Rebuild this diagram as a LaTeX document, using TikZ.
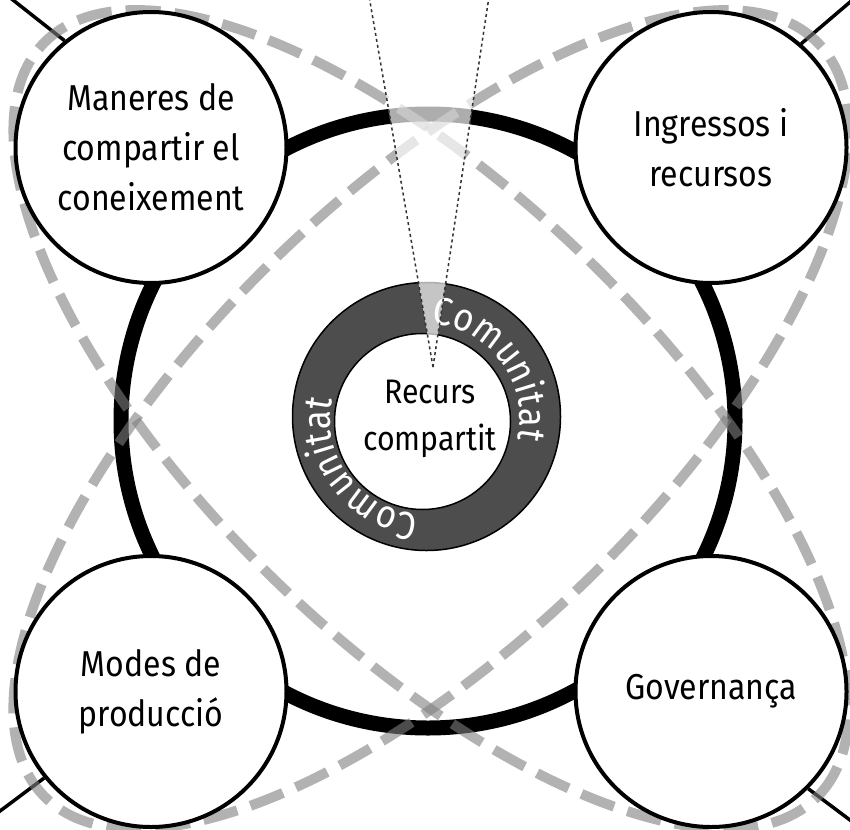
\documentclass[tikz,border=0pt]{standalone}
\usepackage{fontspec}
\setmainfont[FakeStretch=0.89]{Fira Sans}
\usetikzlibrary{decorations.text,calc}
\pgfdeclarelayer{back}
\pgfdeclarelayer{front}
\pgfsetlayers{back,main,front}
\definecolor{ringgray}{HTML}{4D4D4D}
\definecolor{lensgray}{HTML}{7F7F7F}
\newcommand\cornerfont{\fontsize{36}{50}\selectfont}
\newcommand\centerfont{\fontsize{34}{47}\selectfont}
\newcommand\ringfont{\fontsize{39}{39}\selectfont}
\begin{document}
\begin{tikzpicture}[x=1pt,y=1pt,
  corner/.style={circle, draw=black, line width=4pt, fill=white, minimum size=271pt,
    inner sep=0pt, align=center, font=\cornerfont},
  cline/.style={draw=black, line width=3.5pt},
  bigring/.style={draw=black, line width=15pt},
  lens/.style={draw=lensgray, line width=10pt, draw opacity=0.6, dash pattern=on 35pt off 14pt},
  dotline/.style={draw=black!80, line width=1.5pt, dash pattern=on 3pt off 3pt},
  ringtext/.style={decorate, decoration={text along path, text align=center,
    text={|\ringfont\color{white}|Comunitat}}}
]
\useasboundingbox (0,0) rectangle (850,-829);

% key coordinates
\coordinate (O) at (431,-419.5);
\coordinate (RC) at (428,-421);
\coordinate (TC) at (425,-419);
\coordinate (eTL) at (-6,15);
\coordinate (eTR) at (870,15);
\coordinate (eBL) at (-20,-826);
\coordinate (eBR) at (870,-835);
\coordinate (apex) at (433,-367);
\coordinate (wl) at (368,10);
\coordinate (wr) at (490,10);

% corner circles
\node[corner] (TL) at (151,-147.5) {Maneres de\\compartir el\\coneixement};
\node[corner] (TR) at (711,-147.5) {Ingressos i\\recursos};
\node[corner] (BL) at (151,-691.5) {Modes de\\producció};
\node[corner] (BR) at (711,-691.5) {Governança};

% central resource
\node[circle, fill=ringgray, draw=black, line width=1.5pt, minimum size=268pt, inner sep=0pt] (ring) at (426.5,-416.5) {};
\node[circle, fill=white, draw=black, line width=1.5pt, minimum size=176pt, inner sep=0pt] (core) at (422.5,-421.5) {};
\node[font=\centerfont, align=center] (label) at (430,-419) {Recurs\\compartit};
\path[ringtext] ($(TC)+(107:95)$) arc[start angle=107, end angle=-33, radius=95];
\path[ringtext] ($(TC)+(-73:95)$) arc[start angle=-73, end angle=-213, radius=95];

\begin{pgfonlayer}{back}
  \fill[white] (0,0) rectangle (850,-829);
  \draw[cline] (eTL) -- (TL.129);
  \draw[cline] (eTR) -- (TR.49);
  \draw[cline] (eBL) -- (BL.219);
  \draw[cline] (eBR) -- (BR.315);
  \draw[bigring] (RC) circle[radius=307];
  \draw[lens, rotate around={-44.2:(O)}] (O) ellipse[x radius=540, y radius=224];
  \draw[lens, rotate around={44.2:(O)}] (O) ellipse[x radius=540, y radius=224];
\end{pgfonlayer}

\begin{pgfonlayer}{front}
  \fill[white, fill opacity=0.68] (apex) -- (wl) -- (wr) -- cycle;
  \draw[dotline] (apex) -- (wl);
  \draw[dotline] (apex) -- (wr);
\end{pgfonlayer}
\end{tikzpicture}
\end{document}
